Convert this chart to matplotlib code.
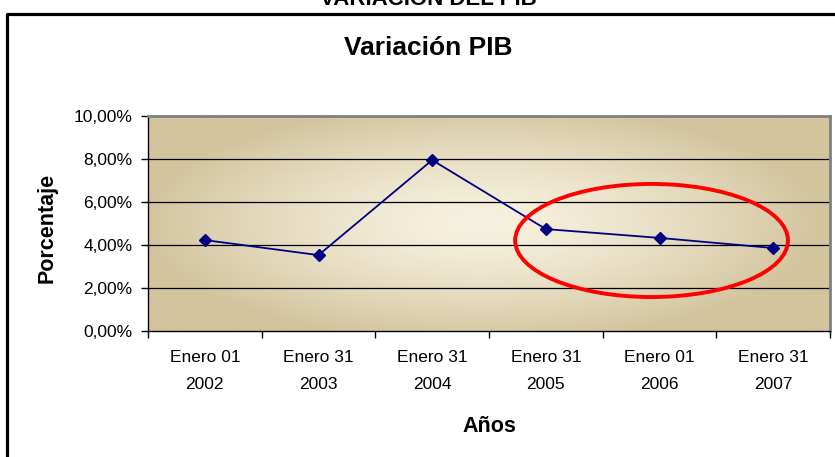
import matplotlib.pyplot as plt
import numpy as np
from matplotlib.lines import Line2D
from matplotlib.patches import Ellipse
from matplotlib.ticker import FuncFormatter

plt.rcParams["font.family"] = ["Liberation Sans", "DejaVu Sans"]

# data
fechas = [
    "Enero 01\n2002",
    "Enero 31\n2003",
    "Enero 31\n2004",
    "Enero 31\n2005",
    "Enero 01\n2006",
    "Enero 31\n2007",
]
variacion = [4.23, 3.53, 7.95, 4.74, 4.33, 3.86]
y_ticks = [0, 2, 4, 6, 8, 10]

W, H = 835, 457
fig = plt.figure(figsize=(W / 100, H / 100), dpi=100)
fig.patch.set_facecolor("white")

# clipped heading from the page and the chart frame
fig.text(428 / W, 1 - 5 / H, "VARIACIÓN DEL PIB", ha="center", va="baseline",
         fontsize=16, fontweight="bold")
fx, fy = 6.5 / W, 1 - 13.5 / H
fig.add_artist(Line2D([fx, fx, 1.01], [-0.01, fy, fy], color="black",
                      linewidth=2.3, transform=fig.transFigure))
fig.text(428 / W, 1 - 48 / H, "Variación PIB", ha="center", va="center",
         fontsize=19, fontweight="bold")

ax = fig.add_axes([148 / W, 1 - 331 / H, 682 / W, 215 / H])

# radial background gradient
nx, ny = 400, 200
gx = np.linspace(-1, 1, nx)
gy = np.linspace(-1, 1, ny)
xx, yy = np.meshgrid(gx, gy)
r = np.clip(np.sqrt((xx + 0.02) ** 2 + (yy * 0.9) ** 2), 0, 1) ** 1.4
centro = np.array([247, 242, 224]) / 255
borde = np.array([211, 196, 158]) / 255
img = centro[None, None, :] * (1 - r[..., None]) + borde[None, None, :] * r[..., None]
ax.imshow(img, extent=[0, 1, 0, 1], transform=ax.transAxes, aspect="auto",
          zorder=0, interpolation="bilinear")

x = np.arange(len(fechas))
ax.set_xlim(-0.5, len(fechas) - 0.5)
ax.set_ylim(0, 10)

for v in y_ticks[1:-1]:
    ax.axhline(v, color="black", linewidth=0.9, zorder=1)

ax.plot(x, variacion, color="#000080", linewidth=1.3, marker="D",
        markersize=6.5, zorder=3)

ax.add_patch(Ellipse((3.93, 4.21), 2.4, 5.26, fill=False, edgecolor="red",
                     linewidth=2.8, zorder=4, clip_on=False))

ax.set_yticks(y_ticks)
ax.yaxis.set_major_formatter(FuncFormatter(lambda v, p: f"{v:.2f}".replace(".", ",") + "%"))
ax.set_xticks(x)
ax.set_xticklabels(fechas, linespacing=1.95)
ax.set_xticks(np.arange(-0.5, len(fechas)), minor=True)
ax.tick_params(axis="x", which="major", length=0, pad=14, labelsize=12.5)
ax.tick_params(axis="x", which="minor", length=5, width=1, direction="out")
ax.tick_params(axis="y", length=5, width=1, pad=6, labelsize=12.5)

for side in ["top", "right"]:
    ax.spines[side].set_color("#808080")
    ax.spines[side].set_linewidth(2)
for side in ["left", "bottom"]:
    ax.spines[side].set_color("black")
    ax.spines[side].set_linewidth(1)

ax.set_xlabel("Años", fontsize=15.5, fontweight="bold")
ax.xaxis.set_label_coords(0.5, -0.395)
ax.set_ylabel("Porcentaje", fontsize=15.5, fontweight="bold")
ax.yaxis.set_label_coords(-0.133, 0.48)

fig.savefig("out.png", dpi=100)
